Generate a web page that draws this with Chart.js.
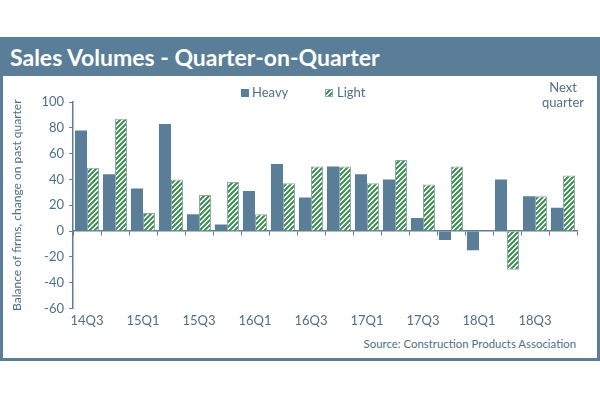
<!DOCTYPE html>
<html lang="en">
<head>
    <meta charset="UTF-8">
    <title>Sales Volumes - Quarter-on-Quarter</title>
    <script src="https://cdn.jsdelivr.net/npm/chart.js@4"></script>
    <style>
        body {
            margin: 0;
            width: 600px;
            height: 397px;
            background: white;
            font-family: Lato, sans-serif;
            position: relative;
            overflow: hidden;
        }
        .frame {
            position: absolute;
            left: 0;
            top: 37px;
            width: 594px;
            height: 318px;
            border: 3px solid #5b7e98;
        }
        .titlebar {
            background: #5b7e98;
            color: white;
            font-weight: bold;
            font-size: 23px;
            height: 36px;
            line-height: 34px;
            padding-left: 7px;
        }
        .source {
            position: absolute;
            right: 24px;
            top: 337px;
            font-size: 11.4px;
            color: #4d7089;
        }
        #chart {
            position: absolute;
            left: 0;
            top: 0;
        }
    </style>
</head>
<body>
    <div class="frame">
        <div class="titlebar">Sales Volumes - Quarter-on-Quarter</div>
    </div>
    <div class="source">Source: Construction Products Association</div>
    <canvas id="chart" width="600" height="397"></canvas>

    <script>
        const quarters = ['14Q3', '14Q4', '15Q1', '15Q2', '15Q3', '15Q4', '16Q1', '16Q2', '16Q3',
            '16Q4', '17Q1', '17Q2', '17Q3', '17Q4', '18Q1', '18Q2', '18Q3', 'Next quarter'];
        const heavy = [78, 44, 33, 83, 13, 5, 31, 52, 26, 50, 44, 40, 10, -7, -15, 40, 27, 18];
        const light = [49, 87, 14, 40, 28, 38, 13, 37, 50, 50, 37, 55, 36, 50, 0, -30, 27, 43];
        const yTicks = [-60, -40, -20, 0, 20, 40, 60, 80, 100];

        const blue = '#5b7e98';
        const textBlue = '#4d7089';
        const green = '#3f8b52';

        // hatched fill for the "Light" bars
        function makeHatch() {
            const c = document.createElement('canvas');
            c.width = 5;
            c.height = 5;
            const g = c.getContext('2d');
            g.fillStyle = 'white';
            g.fillRect(0, 0, 5, 5);
            g.strokeStyle = green;
            g.lineWidth = 2;
            g.beginPath();
            g.moveTo(-1, 6); g.lineTo(6, -1);
            g.moveTo(-1, 1); g.lineTo(1, -1);
            g.moveTo(4, 6); g.lineTo(6, 4);
            g.stroke();
            return g.createPattern(c, 'repeat');
        }
        const ctx = document.getElementById('chart').getContext('2d');
        const hatch = makeHatch();

        // legend and the "Next quarter" label
        const extras = {
            id: 'extras',
            afterDraw(chart) {
                const g = chart.ctx;
                const x = chart.scales.x;
                g.save();
                g.font = '13px Lato, sans-serif';
                g.textBaseline = 'middle';
                g.fillStyle = blue;
                g.fillRect(241, 89, 8, 8);
                g.fillStyle = textBlue;
                g.fillText('Heavy', 252, 93);
                g.fillStyle = hatch;
                g.fillRect(325, 89, 8, 8);
                g.strokeStyle = '#8fa6b8';
                g.lineWidth = 1;
                g.strokeRect(325.5, 89.5, 7, 7);
                g.fillStyle = textBlue;
                g.fillText('Light', 337, 93);
                const last = quarters.length - 1;
                const parts = quarters[last].split(' ');
                const nx = x.getPixelForValue(last);
                g.textAlign = 'center';
                g.fillText(parts[0], nx, 88);
                g.fillText(parts[1], nx, 103);
                g.restore();
            }
        };

        const chart = new Chart(ctx, {
            type: 'bar',
            data: {
                labels: quarters,
                datasets: [
                    {
                        label: 'Heavy',
                        data: heavy,
                        backgroundColor: blue,
                        borderWidth: 0
                    },
                    {
                        label: 'Light',
                        data: light,
                        backgroundColor: hatch,
                        borderColor: '#8fa6b8',
                        borderWidth: 1
                    }
                ]
            },
            options: {
                responsive: false,
                animation: false,
                barPercentage: 1,
                categoryPercentage: 0.86,
                layout: {
                    padding: { top: 102, bottom: 63, left: 4, right: 23 }
                },
                plugins: {
                    legend: { display: false },
                    tooltip: { enabled: false }
                },
                scales: {
                    x: {
                        position: 'bottom',
                        grid: { display: false, drawTicks: false },
                        border: { display: false },
                        ticks: {
                            autoSkip: false,
                            maxRotation: 0,
                            padding: 5,
                            color: textBlue,
                            font: { family: 'Lato', size: 13 },
                            callback: (v, i) => (i % 2 === 0 && i < quarters.length - 1) ? quarters[i] : ''
                        }
                    },
                    x0: {
                        type: 'category',
                        position: { y: 0 },
                        grid: { drawOnChartArea: false, drawTicks: true, tickLength: 4, color: blue, offset: true },
                        border: { display: true, color: blue, width: 1.5 },
                        ticks: { display: false }
                    },
                    y: {
                        min: -60,
                        max: 100,
                        afterBuildTicks: s => { s.ticks = yTicks.map(v => ({ value: v })); },
                        afterFit: s => { s.width = 69; },
                        grid: { drawOnChartArea: false, drawTicks: true, tickLength: 4, color: blue },
                        border: { display: true, color: blue, width: 1.5 },
                        ticks: {
                            padding: 5,
                            color: textBlue,
                            font: { family: 'Lato', size: 13 }
                        },
                        title: {
                            display: true,
                            text: 'Balance of firms, change on past quarter',
                            color: textBlue,
                            font: { family: 'Lato', size: 12 },
                            padding: { top: 6, bottom: 0 }
                        }
                    }
                }
            },
            plugins: [extras]
        });
    </script>
</body>
</html>
